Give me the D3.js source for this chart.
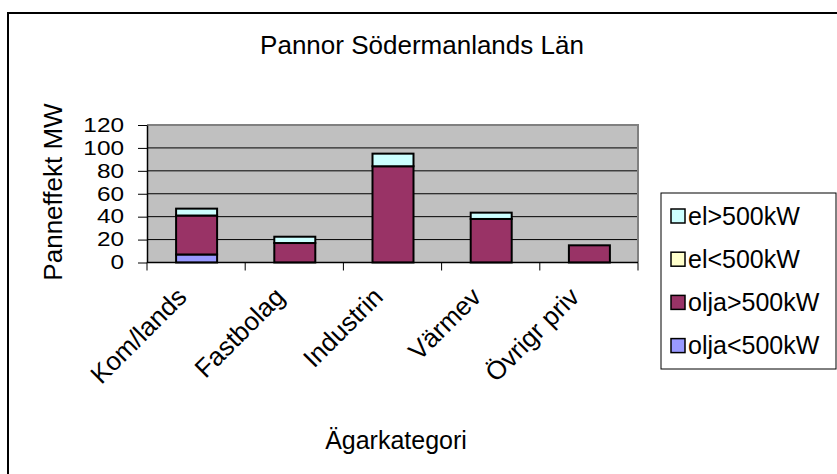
<!DOCTYPE html>
<html lang="sv">
<head>
<meta charset="UTF-8" />
<title>Pannor Södermanlands Län</title>
<script src="https://cdn.jsdelivr.net/npm/d3@7/dist/d3.min.js"></script>
<style>
  html, body { margin: 0; padding: 0; background: #fff; }
  svg { display: block; font-family: "Liberation Sans", Arial, sans-serif; }
</style>
</head>
<body>
<svg id="chart"></svg>
<script>
// data
const categories = ["Kom/lands", "Fastbolag", "Industrin", "Värmev", "Övrigr priv"];
const oljaUnder500 = [7, 0, 0, 0, 0];
const oljaOver500 = [34, 17, 84, 38, 15];
const elUnder500 = [0, 0, 0, 0, 0];
const elOver500 = [6, 5.5, 11, 5.5, 0];
const yTicks = [0, 20, 40, 60, 80, 100, 120];

const seriesNames = ["olja<500kW", "olja>500kW", "el<500kW", "el>500kW"];
const seriesColors = ["#9999FF", "#993366", "#FFFFCC", "#CCFFFF"];
const seriesValues = [oljaUnder500, oljaOver500, elUnder500, elOver500];

const W = 837, H = 474;
const plot = { left: 147, right: 638, top: 125, bottom: 262.5 };

const svg = d3.select("#chart").attr("width", W).attr("height", H);

// outer chart border (goes on past the right and bottom edge)
svg.append("rect")
  .attr("x", 8).attr("y", 13)
  .attr("width", W + 20).attr("height", H + 20)
  .attr("fill", "#fff").attr("stroke", "#000").attr("stroke-width", 2);

const x = d3.scaleBand().domain(categories).range([plot.left, plot.right]).padding(0);
const y = d3.scaleLinear().domain([0, 120]).range([plot.bottom, plot.top]);

// plot area
svg.append("rect")
  .attr("x", plot.left).attr("y", plot.top)
  .attr("width", plot.right - plot.left).attr("height", plot.bottom - plot.top)
  .attr("fill", "#C0C0C0");

// gridlines
svg.append("g")
  .selectAll("line")
  .data(yTicks.filter(d => d > 0 && d < 120))
  .join("line")
  .attr("x1", plot.left).attr("x2", plot.right)
  .attr("y1", d => y(d)).attr("y2", d => y(d))
  .attr("stroke", "#000").attr("stroke-width", 1);

// grey border top / right
svg.append("path")
  .attr("d", `M${plot.left},${plot.top}H${plot.right}V${plot.bottom}`)
  .attr("fill", "none").attr("stroke", "#808080").attr("stroke-width", 2);

// stacked bars
const rows = categories.map((c, i) => {
  const r = { cat: c };
  seriesNames.forEach((s, k) => { r[s] = seriesValues[k][i]; });
  return r;
});
const stacked = d3.stack().keys(seriesNames)(rows);
const barW = 41;

svg.append("g")
  .selectAll("g")
  .data(stacked)
  .join("g")
  .attr("fill", (d, i) => seriesColors[i])
  .selectAll("rect")
  .data(d => d.filter(p => p[1] - p[0] > 0))
  .join("rect")
  .attr("x", d => x(d.data.cat) + x.bandwidth() / 2 - barW / 2 + 0.5)
  .attr("y", d => y(d[1]))
  .attr("width", barW)
  .attr("height", d => y(d[0]) - y(d[1]))
  .attr("stroke", "#000").attr("stroke-width", 2);

// y axis
const tickStretch = 1.25;
const yAxis = svg.append("g")
  .attr("transform", `translate(${plot.left},0)`)
  .call(d3.axisLeft(y).tickValues(yTicks).tickSize(9).tickPadding(14).tickSizeOuter(0));
yAxis.select(".domain").attr("stroke", "#000").attr("stroke-width", 1.5);
yAxis.selectAll(".tick line").attr("stroke", "#000");
yAxis.selectAll("text")
  .attr("font-size", 19.5).attr("fill", "#000")
  .attr("font-family", "Liberation Sans, Arial, sans-serif")
  .attr("x", -23 / tickStretch)
  .attr("transform", `scale(${tickStretch},1)`);

// x axis, ticks between categories
svg.append("line")
  .attr("x1", plot.left).attr("x2", plot.right)
  .attr("y1", plot.bottom).attr("y2", plot.bottom)
  .attr("stroke", "#000").attr("stroke-width", 1.5);
const bounds = categories.map(c => x(c)).concat([plot.right]);
svg.append("g")
  .selectAll("line")
  .data(bounds)
  .join("line")
  .attr("x1", d => d).attr("x2", d => d)
  .attr("y1", plot.bottom).attr("y2", plot.bottom + 8)
  .attr("stroke", "#000").attr("stroke-width", 1);

svg.append("g")
  .selectAll("text")
  .data(categories)
  .join("text")
  .attr("transform", d => `translate(${x(d) + x.bandwidth() / 2 - 8},${plot.bottom + 36}) rotate(-45)`)
  .attr("text-anchor", "end")
  .attr("font-size", 26)
  .text(d => d);

// titles
svg.append("text")
  .attr("x", 422).attr("y", 54)
  .attr("text-anchor", "middle").attr("font-size", 26)
  .text("Pannor Södermanlands Län");

svg.append("text")
  .attr("transform", "translate(62,192) rotate(-90)")
  .attr("text-anchor", "middle").attr("font-size", 26)
  .text("Panneffekt MW");

svg.append("text")
  .attr("x", 396).attr("y", 449)
  .attr("text-anchor", "middle").attr("font-size", 25)
  .text("Ägarkategori");

// legend
const legend = svg.append("g");
legend.append("rect")
  .attr("x", 661).attr("y", 193).attr("width", 175).attr("height", 176)
  .attr("fill", "#fff").attr("stroke", "#000").attr("stroke-width", 1);

const legendItems = seriesNames.map((s, i) => ({ name: s, color: seriesColors[i] })).reverse();
const li = legend.selectAll("g.item")
  .data(legendItems)
  .join("g")
  .attr("class", "item")
  .attr("transform", (d, i) => `translate(671,${216 + i * 43.2})`);
li.append("rect")
  .attr("x", 0).attr("y", -7).attr("width", 14).attr("height", 14)
  .attr("fill", d => d.color).attr("stroke", "#000").attr("stroke-width", 1.5);
li.append("text")
  .attr("x", 17).attr("dy", "0.35em")
  .attr("font-size", 25)
  .text(d => d.name);
</script>
</body>
</html>
